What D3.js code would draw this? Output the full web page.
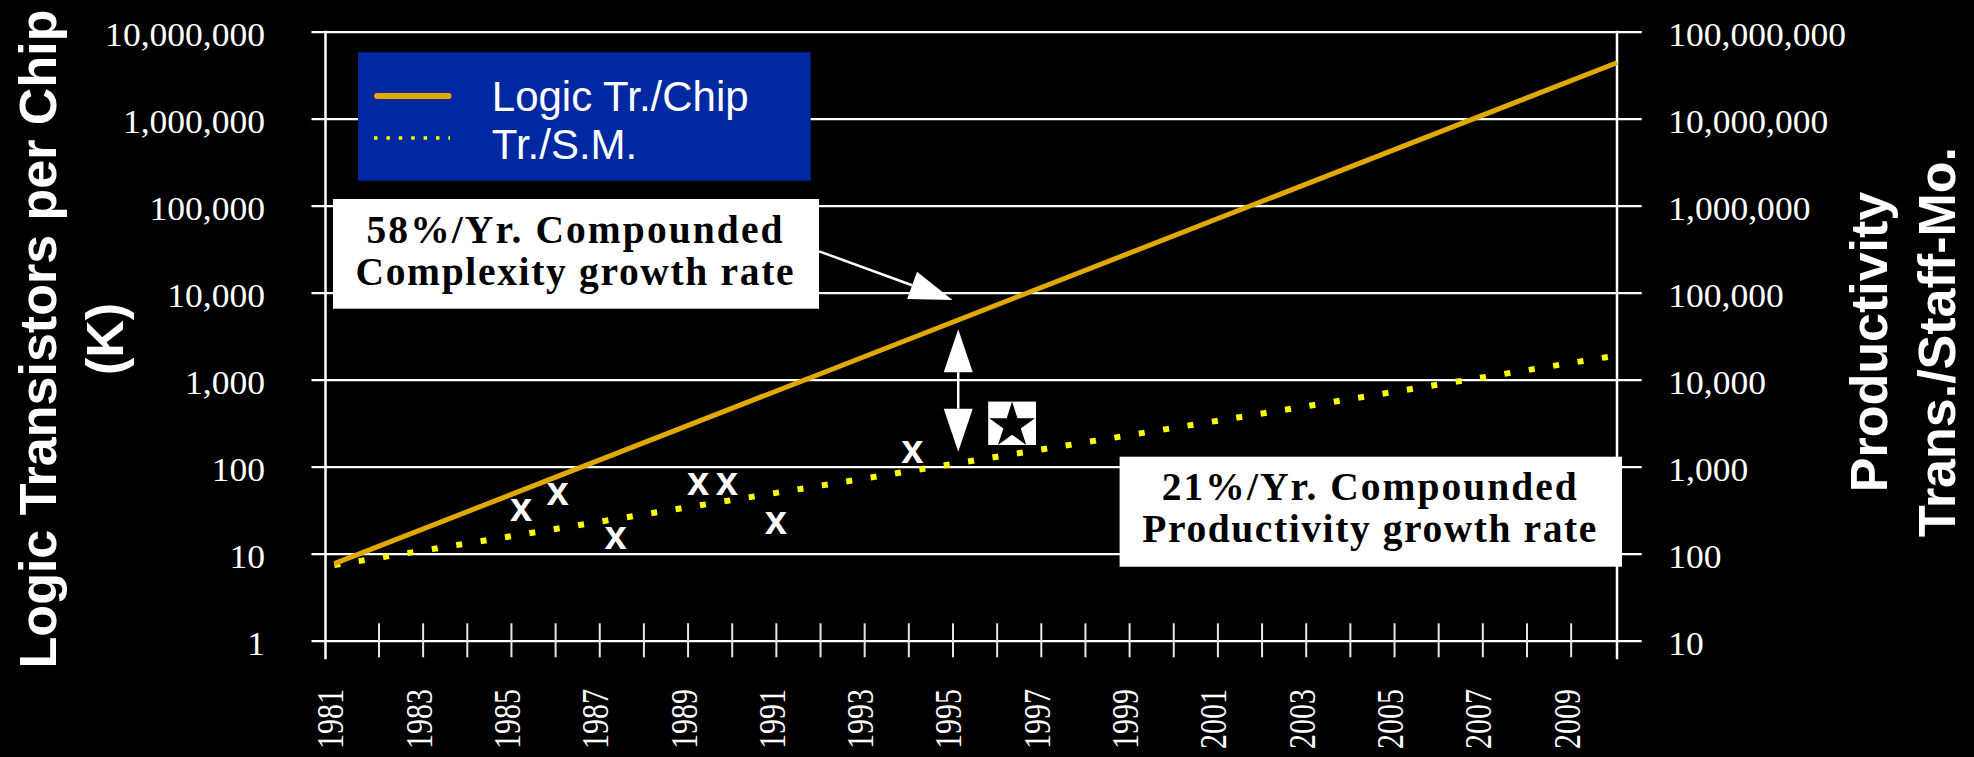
<!DOCTYPE html>
<html><head><meta charset="utf-8">
<script src="https://cdn.jsdelivr.net/npm/d3@7"></script>
<style>html,body{margin:0;padding:0;background:#000;}svg{display:block;}
.serif{font-family:"Liberation Serif","Times New Roman",serif !important;}
</style>
</head><body>
<svg id="c" width="1974" height="757"></svg>
<script>
// ---------- data ----------
const seriesNames = ["Logic Tr./Chip", "Tr./S.M."];
const logicYears = [1981, 2010.05];
const logicValues = [7.7, 4400000];            // left axis (K transistors per chip)
const prodYears = [1981, 2010.05];
const prodValues = [74, 19000];                // right axis (trans./staff-month)
const pointYears = [1985.23, 1986.06, 1987.37, 1989.24, 1989.89, 1991.0, 1994.09];
const pointValues = [312, 473, 150, 628, 628, 224, 1445]; // right axis
const starYears = [1996.35];
const starValues = [3155];                     // right axis
const leftTicks = [1, 10, 100, 1000, 10000, 100000, 1000000, 10000000];
const rightTicks = [10, 100, 1000, 10000, 100000, 1000000, 10000000, 100000000];
const xTickYears = [1982,1983,1984,1985,1986,1987,1988,1989,1990,1991,1992,1993,1994,1995,1996,1997,1998,1999,2000,2001,2002,2003,2004,2005,2006,2007,2008,2009];
const xLabelYears = [1981,1983,1985,1987,1989,1991,1993,1995,1997,1999,2001,2003,2005,2007,2009];
const leftTitle = ["Logic Transistors per Chip", "(K)"];
const rightTitle = ["Productivity", "Trans./Staff-Mo."];
const note1 = ["58%/Yr. Compounded", "Complexity growth rate"];
const note2 = ["21%/Yr. Compounded", "Productivity growth rate"];
// arrow annotations (data coords, left axis units)
const arrow1 = {from: [1991.98, 29900], to: [1995.0, 8240]};
const arrow2 = {year: 1995.13, top: 3797, bottom: 148.7};

// ---------- layout ----------
const W = 1974, H = 757;
const plot = {left: 325.5, right: 1617, top: 31.7, bottom: 640.7};
const gridX0 = 311.5, gridX1 = 1641.7;
const ORANGE = "#E0A800", YELLOW = "#FFFF00", BLUE = "#0028A0";
const SERIF = "'Liberation Serif','Times New Roman',serif";
const SANS = "'Liberation Sans',Arial,sans-serif";

const svg = d3.select("#c");
svg.append("rect").attr("width", W).attr("height", H).attr("fill", "#000");

const x = d3.scaleLinear().domain([1980.8, 2010.05]).range([plot.left, plot.right]);
const yL = d3.scaleLog().domain([1, 1e7]).range([plot.bottom, plot.top]);
const yR = d3.scaleLog().domain([10, 1e8]).range([plot.bottom, plot.top]);

// gridlines
const grid = svg.append("g").attr("transform", `translate(${gridX0},0)`)
  .call(d3.axisRight(yL).tickValues(leftTicks).tickSize(gridX1 - gridX0).tickFormat(""));
grid.select(".domain").remove();
grid.selectAll("line").attr("stroke", "#fff").attr("stroke-width", 2.2);

// axis frame lines
svg.append("line").attr("x1", plot.left).attr("x2", plot.left).attr("y1", plot.top - 1).attr("y2", 659.3)
  .attr("stroke", "#fff").attr("stroke-width", 2.5);
svg.append("line").attr("x1", plot.right).attr("x2", plot.right).attr("y1", plot.top - 1).attr("y2", 659.3)
  .attr("stroke", "#fff").attr("stroke-width", 2.5);

// x ticks (cross the bottom line)
const xt = svg.append("g").attr("transform", `translate(0,623.3)`)
  .call(d3.axisBottom(x).tickValues(xTickYears).tickSize(34).tickFormat(""));
xt.select(".domain").remove();
xt.selectAll("line").attr("stroke", "#e6e6e6").attr("stroke-width", 2);

// x labels
const xl = svg.append("g").call(d3.axisBottom(x).tickValues(xLabelYears).tickSize(0).tickFormat(d3.format("d")));
xl.attr("font-family", SERIF).attr("font-size", 38);
xl.select(".domain").remove();
xl.selectAll("text")
  .attr("y", 0).attr("dy", null).attr("x", 0)
  .attr("class", "serif")
  .attr("text-anchor", "end")
  .attr("transform", "translate(8.5,689) rotate(-90) scale(0.79,1)")
  .attr("fill", "#fff")
  .attr("font-family", SERIF)
  .style("font-size", "38px");

// left labels
const fmt = d3.format(",");
const la = svg.append("g").attr("transform", "translate(265,0)")
  .call(d3.axisLeft(yL).tickValues(leftTicks).tickSize(0).tickPadding(0).tickFormat(fmt));
la.attr("font-family", SERIF).attr("font-size", 34.5);
la.select(".domain").remove();
la.selectAll("text").attr("dy", null).attr("x", 0).attr("y", 14.2).attr("class", "serif")
  .attr("transform", "scale(1.03,1)").attr("fill", "#fff")
  .attr("font-family", SERIF).style("font-size", "34.5px");

// right labels
const ra = svg.append("g").attr("transform", "translate(1668.3,0)")
  .call(d3.axisRight(yR).tickValues(rightTicks).tickSize(0).tickPadding(0).tickFormat(fmt));
ra.attr("font-family", SERIF).attr("font-size", 34.5);
ra.select(".domain").remove();
ra.selectAll("text").attr("dy", null).attr("x", 0).attr("y", 14.2).attr("class", "serif")
  .attr("transform", "scale(1.03,1)").attr("fill", "#fff")
  .attr("font-family", SERIF).style("font-size", "34.5px");

// titles
function vTitle(lines, xs, cy) {
  lines.forEach((t, i) => {
    svg.append("text").attr("transform", `translate(${xs[i]},${cy}) rotate(-90)`)
      .attr("text-anchor", "middle").attr("fill", "#fff")
      .style("font-family", SANS).style("font-weight", "bold")
      .style("font-size", "52px").text(t);
  });
}
vTitle(leftTitle, [55.5, 123], 339);
vTitle(rightTitle, [1887, 1955], 342);

// series lines
const lineL = d3.line().x(d => x(d[0])).y(d => yL(d[1]));
const lineR = d3.line().x(d => x(d[0])).y(d => yR(d[1]));
svg.append("path").datum(prodYears.map((yr, i) => [yr, prodValues[i]]))
  .attr("d", lineR).attr("fill", "none").attr("stroke", YELLOW)
  .attr("stroke-width", 6).attr("stroke-dasharray", "6 18.7");
svg.append("path").datum(logicYears.map((yr, i) => [yr, logicValues[i]]))
  .attr("d", lineL).attr("fill", "none").attr("stroke", ORANGE).attr("stroke-width", 5);

// x markers
svg.append("g").selectAll("text").data(pointYears.map((yr, i) => [yr, pointValues[i]])).join("text")
  .attr("x", d => x(d[0])).attr("y", d => yR(d[1])).attr("dy", 10.4)
  .attr("text-anchor", "middle").attr("fill", "#fff")
  .style("font-family", SANS).style("font-weight", "bold")
  .style("font-size", "40px").text("x");

// star marker
const starG = svg.append("g").selectAll("g").data(starYears.map((yr, i) => [yr, starValues[i]])).join("g")
  .attr("transform", d => `translate(${x(d[0])},${yR(d[1])})`);
starG.append("rect").attr("x", -23.9).attr("y", -21.7).attr("width", 47.8).attr("height", 43.4).attr("fill", "#fff");
starG.append("path").attr("d", d3.symbol(d3.symbolStar, 24 * 24 / 0.8908130915292852)())
  .attr("transform", "translate(0,2.3)").attr("fill", "#000");

// arrows
function arrowHead(tx, ty, fx, fy, len, hw) {
  const dx = tx - fx, dy = ty - fy, L = Math.hypot(dx, dy), ux = dx / L, uy = dy / L;
  const bx = tx - ux * len, by = ty - uy * len;
  return {base: [bx, by], d: `M${tx},${ty}L${bx - uy * hw},${by + ux * hw}L${bx + uy * hw},${by - ux * hw}Z`};
}
function drawArrow(fx, fy, tx, ty, both) {
  const h1 = arrowHead(tx, ty, fx, fy, 43, 14.5);
  let start = [fx, fy];
  if (both) {
    const h0 = arrowHead(fx, fy, tx, ty, 43, 14.5);
    svg.append("path").attr("d", h0.d).attr("fill", "#fff");
    start = h0.base;
  }
  svg.append("line").attr("x1", start[0]).attr("y1", start[1]).attr("x2", h1.base[0]).attr("y2", h1.base[1])
    .attr("stroke", "#fff").attr("stroke-width", 2.5);
  svg.append("path").attr("d", h1.d).attr("fill", "#fff");
}
drawArrow(x(arrow1.from[0]), yL(arrow1.from[1]), x(arrow1.to[0]), yL(arrow1.to[1]), false);
drawArrow(x(arrow2.year), yL(arrow2.bottom), x(arrow2.year), yL(arrow2.top), true);

// legend
const lg = svg.append("g");
lg.append("rect").attr("x", 358).attr("y", 52.3).attr("width", 452.7).attr("height", 128.4).attr("fill", BLUE);
lg.append("line").attr("x1", 377).attr("x2", 448.5).attr("y1", 96).attr("y2", 96)
  .attr("stroke", ORANGE).attr("stroke-width", 6).attr("stroke-linecap", "round");
lg.append("line").attr("x1", 374).attr("x2", 450).attr("y1", 138).attr("y2", 138)
  .attr("stroke", YELLOW).attr("stroke-width", 3.5).attr("stroke-dasharray", "3.5 8.9");
seriesNames.forEach((n, i) => {
  lg.append("text").attr("x", 491.8).attr("y", i === 0 ? 110.7 : 159.3).attr("fill", "#fff")
    .style("font-family", SANS).style("font-size", "42px").text(n);
});

// annotation boxes
function noteBox(x0, y0, w, h, lines, widths, baselines) {
  svg.append("rect").attr("x", x0).attr("y", y0).attr("width", w).attr("height", h).attr("fill", "#fff");
  lines.forEach((t, i) => {
    svg.append("text").attr("x", x0 + w / 2 - 1.5).attr("y", baselines[i]).attr("text-anchor", "middle")
      .attr("textLength", widths[i]).attr("lengthAdjust", "spacing").attr("fill", "#000")
      .style("font-family", SERIF).style("font-weight", "bold")
      .style("font-size", "39.5px").text(t);
  });
}
noteBox(333, 199, 486, 109.7, note1, [416, 438], [242.7, 285]);
noteBox(1119.6, 456.7, 502.4, 110, note2, [415, 454], [500, 542]);
</script>
</body></html>
